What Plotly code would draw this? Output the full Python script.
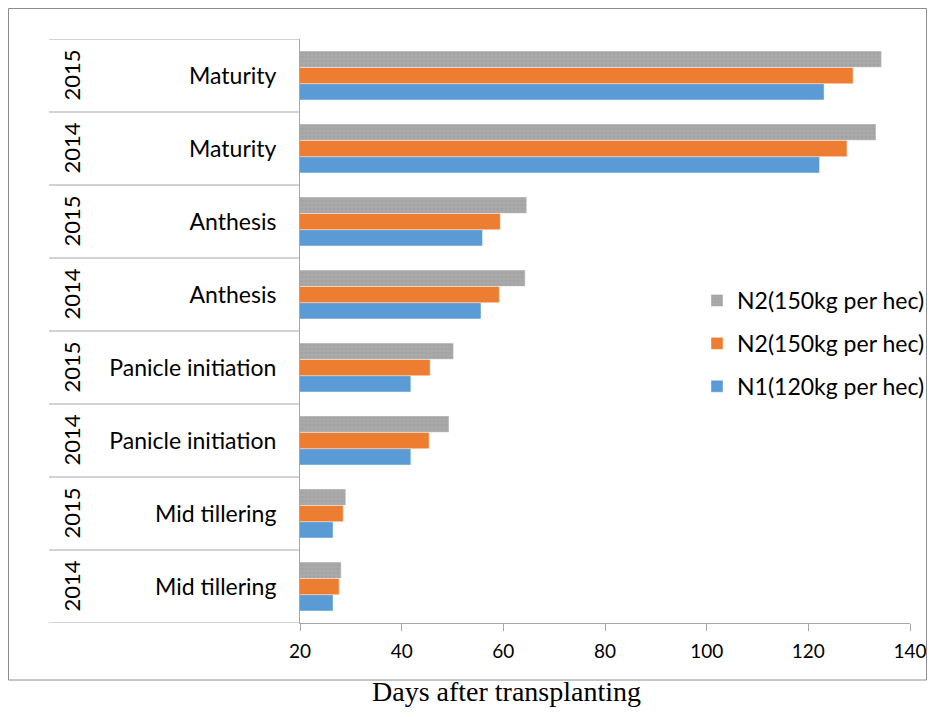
import plotly.graph_objects as go

# Data (bottom row first)
stages = ["Mid tillering", "Mid tillering", "Panicle initiation", "Panicle initiation",
          "Anthesis", "Anthesis", "Maturity", "Maturity"]
years = ["2014", "2015", "2014", "2015", "2014", "2015", "2014", "2015"]
n1_120 = [26.5, 26.5, 41.8, 41.8, 55.6, 55.9, 122.2, 123.1]
n2_150_orange = [27.7, 28.5, 45.4, 45.6, 59.2, 59.4, 127.6, 128.8]
n2_150_gray = [28.1, 29.0, 49.3, 50.2, 64.3, 64.6, 133.3, 134.4]
x_ticks = [20, 40, 60, 80, 100, 120, 140]

keys = [f"{y}|{s}" for y, s in zip(years, stages)]

# page body has an 8px margin, so the figure is drawn at (8, 8) in the window
OFF = 8
W, H = 935 - 2 * OFF, 717 - 2 * OFF
L = 300 - OFF
T = 39 - OFF
R = W - (910 - OFF)
B = H - (623 - OFF)
pw = W - L - R
ph = H - T - B

def px_x(p):
    return (p - OFF - L) / pw

def px_y(p):
    return (H - B - (p - OFF)) / ph

FONT = "Lato"
AX = "#a6a6a6"

fig = go.Figure()
fig.add_trace(go.Bar(
    y=keys, x=n1_120, orientation="h", name="N1(120kg per hec)",
    marker=dict(color="#5B9BD5", line=dict(color="rgba(255,255,255,0.7)", width=0.6)),
    legendgroup="a", legendrank=3))
fig.add_trace(go.Bar(
    y=keys, x=n2_150_orange, orientation="h", name="N2(150kg per hec)",
    marker=dict(color="#ED7D31", line=dict(color="rgba(255,255,255,0.7)", width=0.6)),
    legendgroup="b", legendrank=2))
fig.add_trace(go.Bar(
    y=keys, x=n2_150_gray, orientation="h", name="N2(150kg per hec)",
    marker=dict(color="#A5A5A5", line=dict(color="rgba(255,255,255,0.7)", width=0.6),
                pattern=dict(shape=".", fgcolor="#999999", bgcolor="#A9A9A9",
                             size=4, solidity=0.3)),
    legendgroup="c", legendrank=1))

shapes = []
# row separators of the category table
for i in range(len(keys) + 1):
    shapes.append(dict(type="line", xref="paper", yref="y",
                       x0=px_x(49), x1=0, y0=i - 0.5, y1=i - 0.5,
                       line=dict(color=AX, width=1)))
# outer border
shapes.append(dict(type="rect", xref="paper", yref="paper",
                   x0=px_x(8.5), x1=(W - 0.5 - L) / pw, y0=px_y(680), y1=px_y(8.5),
                   line=dict(color="#8c8c8c", width=1)))

annotations = []
for i, yr in enumerate(years):
    annotations.append(dict(x=px_x(71), y=i, xref="paper", yref="y",
                            xanchor="center", yanchor="middle",
                            text=yr, textangle=-90, showarrow=False,
                            font=dict(family=FONT, size=22, color="#000000")))
annotations.append(dict(x=px_x(506), y=px_y(708), xref="paper", yref="paper",
                        xanchor="center", yanchor="bottom", borderpad=0,
                        text="Days after transplanting", showarrow=False,
                        font=dict(family="Liberation Serif", size=28, color="#000000")))

fig.update_layout(
    width=W, height=H,
    margin=dict(l=L, r=R, t=T, b=B, autoexpand=False),
    paper_bgcolor="white", plot_bgcolor="white",
    barmode="group", bargap=0.33, bargroupgap=0,
    showlegend=True,
    legend=dict(x=px_x(697), y=px_y(279), xanchor="left", yanchor="top",
                bgcolor="rgba(0,0,0,0)", tracegroupgap=10,
                font=dict(family=FONT, size=23, color="#000000"),
                itemwidth=30),
    shapes=shapes, annotations=annotations,
    font=dict(family=FONT, color="#000000"),
)
fig.update_xaxes(range=[20, 140], tickvals=x_ticks, ticktext=[str(v) for v in x_ticks],
                 automargin=False,
                 showgrid=False, zeroline=False, showline=True, linecolor=AX, linewidth=1,
                 ticks="outside", ticklen=7, tickcolor=AX, tickwidth=1,
                 ticklabelstandoff=4,
                 tickfont=dict(family=FONT, size=19, color="#000000"))
fig.update_yaxes(type="category", categoryorder="array", categoryarray=keys,
                 automargin=False,
                 range=[-0.5, len(keys) - 0.5],
                 tickvals=keys, ticktext=stages,
                 showgrid=False, zeroline=False, showline=True, linecolor=AX, linewidth=1,
                 ticks="", ticklabelstandoff=18,
                 tickfont=dict(family=FONT, size=23, color="#000000"))

fig.write_html("out.html")
